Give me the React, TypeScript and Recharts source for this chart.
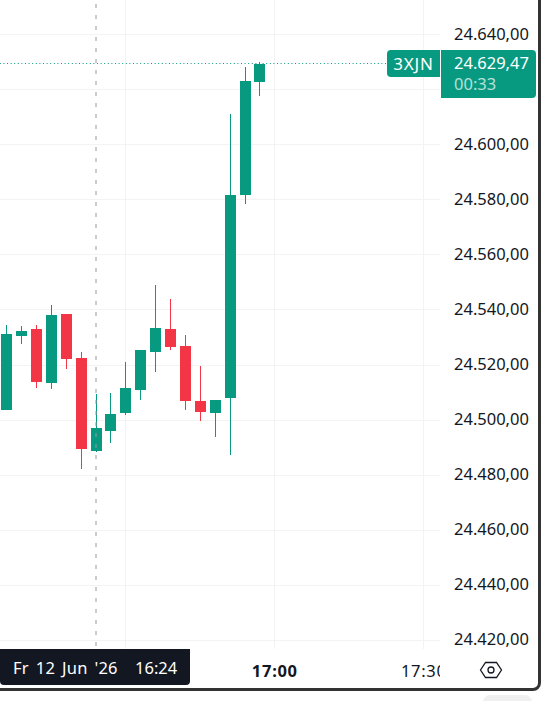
import React from "react";
import { ComposedChart, Bar, XAxis, YAxis, CartesianGrid, ReferenceLine } from "recharts";

// minutes after 16:00 on Fr 12 Jun '26 (3-minute candles)
const minutes = [6, 9, 12, 15, 18, 21, 24, 27, 30, 33, 36, 39, 42, 45, 48, 51, 54, 57];
const opens = [24503.6, 24530.5, 24533.0, 24513.4, 24538.5, 24522.5, 24488.7, 24496.0, 24502.5, 24510.9, 24524.7, 24533.0, 24526.8, 24506.9, 24502.5, 24508.0, 24581.7, 24622.8];
const highs = [24534.5, 24534.1, 24534.5, 24541.7, 24538.5, 24524.7, 24509.4, 24509.8, 24521.0, 24525.4, 24549.0, 24543.9, 24530.8, 24519.6, 24507.2, 24611.1, 24628.1, 24629.9];
const lows = [24503.6, 24527.6, 24511.6, 24511.2, 24518.5, 24482.2, 24488.3, 24491.6, 24501.8, 24507.2, 24517.4, 24525.4, 24503.6, 24499.6, 24493.8, 24487.3, 24578.4, 24617.6];
const closes = [24531.2, 24532.3, 24513.8, 24538.1, 24522.1, 24489.4, 24497.1, 24502.2, 24511.6, 24525.4, 24533.4, 24526.5, 24506.9, 24502.9, 24507.2, 24581.7, 24623.0, 24629.47];

const priceTicks = [24420, 24440, 24460, 24480, 24500, 24520, 24540, 24560, 24580, 24600, 24620, 24640];
const hiddenPriceTick = 24620; // covered by the last-price label in the reference
const timeTicks = [30, 60, 90];
const timeLabels: Record<number, string> = { 60: "17:00", 90: "17:30" };
const lastPrice = 24629.47;
const crosshairMinute = 24;
const symbolLabel = "3XJN";
const priceLabel = "24.629,47";
const countdownLabel = "00:33";
const dateLabel = "Fr 12 Jun '26";
const timeLabel = "16:24";

const data = minutes.map((m, i) => ({ m, open: opens[i], high: highs[i], low: lows[i], close: closes[i] }));

const GREEN = "#089981";
const RED = "#f23645";
const FONT = "'Noto Sans', sans-serif";
const GRID = "#f3f3f4";
const W = 548;
const H = 701;

const fmt = (v: number) => {
  const s = v.toFixed(2).replace(".", ",");
  return s.slice(0, 2) + "." + s.slice(2);
};

const Candle = (p: any) => {
  const { x, y, width, height, payload } = p;
  const k = height / (payload.high - payload.low || 1);
  const up = payload.close >= payload.open;
  const color = up ? GREEN : RED;
  const cx = Math.floor(x + width / 2);
  const top = Math.round(y + (payload.high - Math.max(payload.open, payload.close)) * k);
  const bot = Math.round(y + (payload.high - Math.min(payload.open, payload.close)) * k);
  return (
    <g shapeRendering="crispEdges">
      <rect x={cx} y={Math.round(y)} width={1} height={Math.round(height)} fill={color} />
      <rect x={cx - 5} y={top} width={11} height={Math.max(bot - top, 1)} fill={color} />
    </g>
  );
};

const PriceTick = (p: any) =>
  p.payload.value === hiddenPriceTick ? (
    <g />
  ) : (
    <text x={454} y={p.y + 5} fontFamily={FONT} fontSize={16.5} fill="#131722">
      {fmt(p.payload.value)}
    </text>
  );

const TimeTick = (p: any) => {
  const label = timeLabels[p.payload.value];
  if (!label) return <g />;
  const bold = p.payload.value === 60;
  return (
    <g>
      <clipPath id={"clip" + p.payload.value}>
        <rect x={0} y={640} width={440} height={60} />
      </clipPath>
      <text
        x={p.x}
        y={677}
        textAnchor="middle"
        fontFamily={FONT}
        fontSize={16.5}
        letterSpacing={0.7}
        fontWeight={bold ? 700 : 400}
        fill="#131722"
        clipPath={`url(#clip${p.payload.value})`}
      >
        {label}
      </text>
    </g>
  );
};

const box: React.CSSProperties = {
  position: "absolute",
  boxSizing: "border-box",
  fontFamily: FONT,
  fontSize: 16.5,
  lineHeight: "21px",
  whiteSpace: "nowrap",
};

export default function App() {
  return (
    <div style={{ position: "absolute", left: 0, top: 0, width: W, height: H, background: "#fff", overflow: "hidden" }}>
      <ComposedChart
        width={W}
        height={H}
        data={data}
        margin={{ top: 0, right: 0, bottom: 0, left: 0 }}
        style={{ position: "absolute", left: 0, top: 0 }}
      >
        <CartesianGrid stroke={GRID} strokeWidth={1} shapeRendering="crispEdges" syncWithTicks />
        <XAxis
          type="number"
          dataKey="m"
          domain={[4.671, 93.26]}
          allowDataOverflow
          ticks={timeTicks}
          height={52}
          axisLine={false}
          tickLine={false}
          tick={TimeTick}
          interval={0}
        />
        <YAxis
          orientation="right"
          type="number"
          domain={[24416.914, 24652.525]}
          allowDataOverflow
          ticks={priceTicks}
          width={108}
          axisLine={false}
          tickLine={false}
          tick={PriceTick}
          interval={0}
        />
        <Bar dataKey={(d: any) => [d.low, d.high]} barSize={11} shape={Candle} isAnimationActive={false} />
        <ReferenceLine y={lastPrice} stroke={GREEN} strokeWidth={1} strokeDasharray="1 2.6" />
        <ReferenceLine x={crosshairMinute} stroke="#9598a1" strokeWidth={1} strokeDasharray="4 7" strokeDashoffset={-3} />
      </ComposedChart>

      <div style={{ ...box, left: 387, top: 50, width: 53, height: 27, background: GREEN, color: "#fff", borderRadius: "4px 0 0 4px", textAlign: "center", paddingTop: 3, fontSize: 17, letterSpacing: 0.8 }}>
        {symbolLabel}
      </div>
      <div style={{ ...box, left: 441, top: 50, width: 95, height: 48, background: GREEN, color: "#fff", borderRadius: "0 4px 4px 0", paddingLeft: 13, paddingTop: 2 }}>
        <div>{priceLabel}</div>
        <div style={{ color: "#b5e0d8" }}>{countdownLabel}</div>
      </div>
      <div style={{ ...box, left: 0, top: 649, width: 190, height: 36, background: "#131722", color: "#fff", borderRadius: "0 0 4px 4px", paddingTop: 8 }}>
        <span style={{ position: "absolute", left: 13, wordSpacing: 2.5, letterSpacing: 0.2 }}>{dateLabel}</span>
        <span style={{ position: "absolute", left: 135 }}>{timeLabel}</span>
      </div>
      <svg width={30} height={24} style={{ position: "absolute", left: 476, top: 658 }}>
        <polygon points="4.5,12 9.5,4.5 20.5,4.5 25.5,12 20.5,19.5 9.5,19.5" fill="none" stroke="#131722" strokeWidth={1.3} />
        <circle cx={15} cy={12} r={3} fill="none" stroke="#131722" strokeWidth={1.3} />
      </svg>
      <div style={{ position: "absolute", left: -20, top: -20, width: 561, height: 711, boxSizing: "border-box", border: "3px solid #333", borderRadius: 8, pointerEvents: "none" }} />
      <div style={{ position: "absolute", left: 483, top: 695, width: 49, height: 30, background: "#f0f0f0", borderRadius: 7 }} />
    </div>
  );
}
